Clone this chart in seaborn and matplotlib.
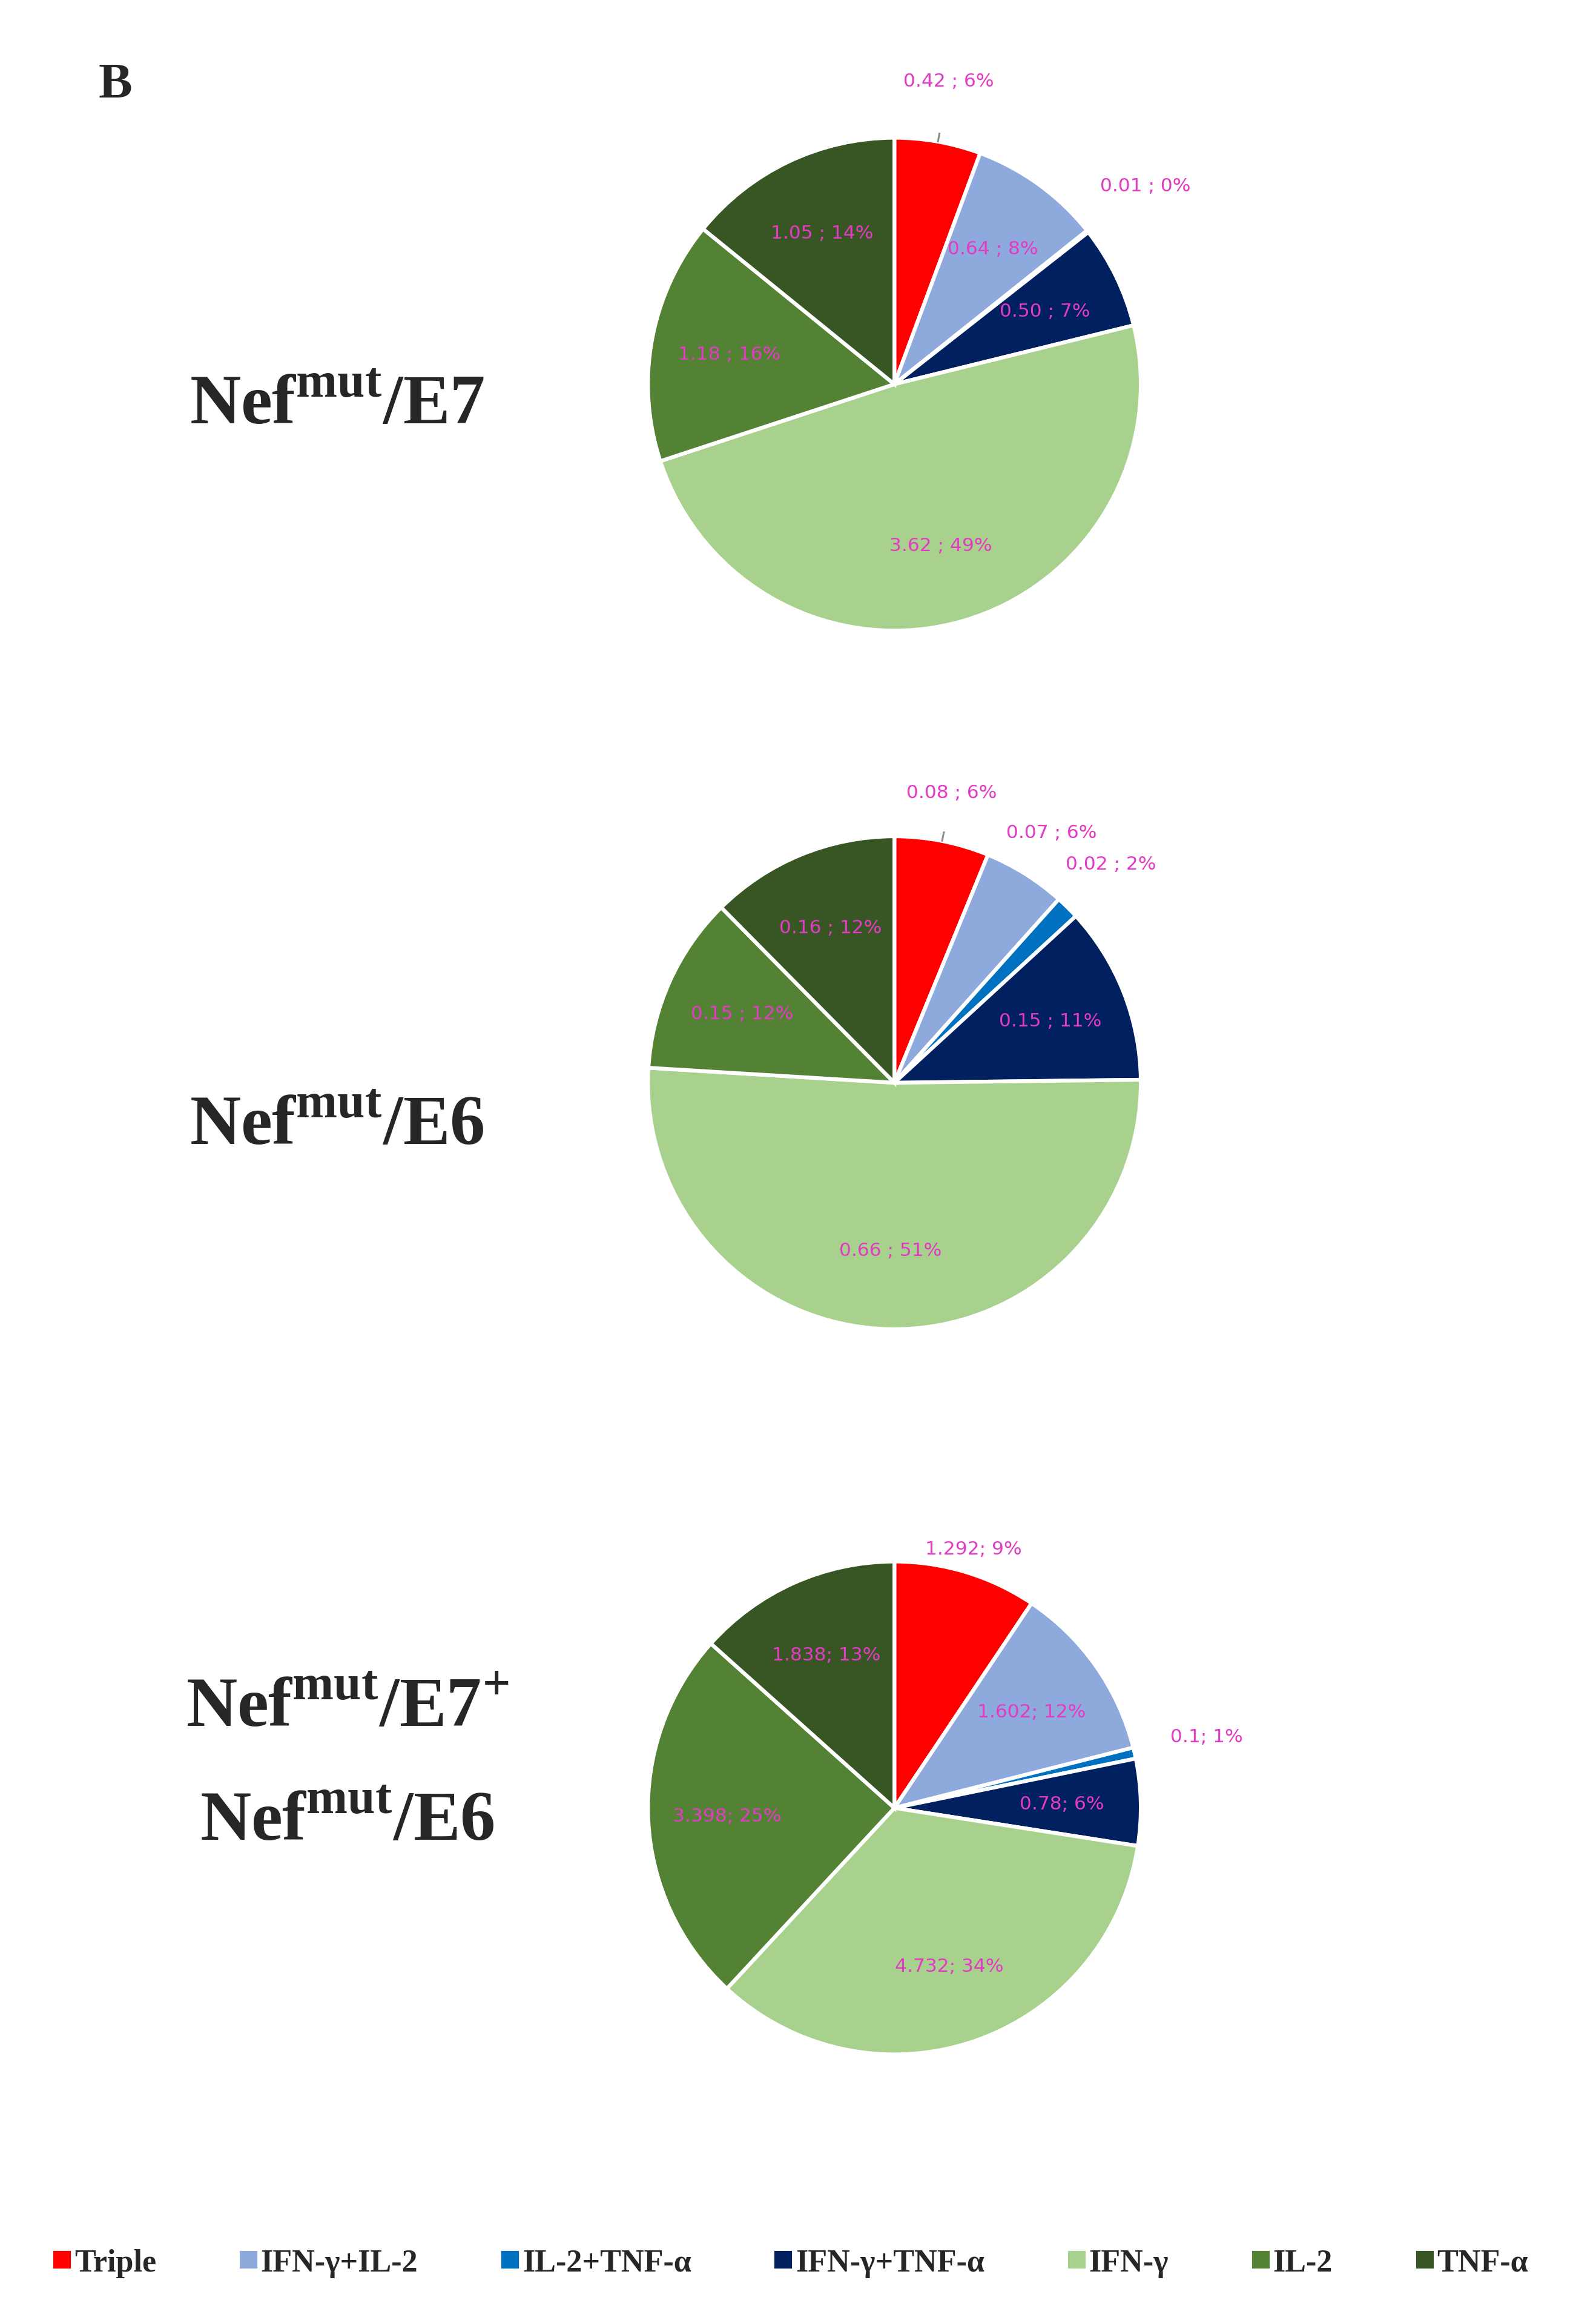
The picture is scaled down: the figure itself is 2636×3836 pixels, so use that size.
import numpy as np
import matplotlib
matplotlib.use("Agg")
import matplotlib.pyplot as plt
import seaborn as sns

# %%
# Cytokine categories and values for each vaccine group
categories = ["Triple", "IFN-γ+IL-2", "IL-2+TNF-α", "IFN-γ+TNF-α",
              "IFN-γ", "IL-2", "TNF-α"]
e7_values = [0.42, 0.64, 0.01, 0.50, 3.62, 1.18, 1.05]
e7_labels = ["0.42 ; 6%", "0.64 ; 8%", "0.01 ; 0%", "0.50 ; 7%",
             "3.62 ; 49%", "1.18 ; 16%", "1.05 ; 14%"]
e6_values = [0.08, 0.07, 0.02, 0.15, 0.66, 0.15, 0.16]
e6_labels = ["0.08 ; 6%", "0.07 ; 6%", "0.02 ; 2%", "0.15 ; 11%",
             "0.66 ; 51%", "0.15 ; 12%", "0.16 ; 12%"]
mix_values = [1.292, 1.602, 0.1, 0.78, 4.732, 3.398, 1.838]
mix_labels = ["1.292; 9%", "1.602; 12%", "0.1; 1%", "0.78; 6%",
              "4.732; 34%", "3.398; 25%", "1.838; 13%"]

sns.set_theme(style="white")
plt.rcParams['mathtext.fontset'] = 'custom'
plt.rcParams['mathtext.rm'] = 'Liberation Serif'
plt.rcParams['mathtext.bf'] = 'Liberation Serif:bold'
colors = sns.color_palette(["#FF0000", "#8EA9DB", "#0070C0", "#002060",
                            "#A9D18E", "#548235", "#375623"])
label_color = "#E33BC4"

fig = plt.figure(figsize=(2637 / 300, 3837 / 300), dpi=300)

W, H = 1080, 1570  # reference layout units


def draw_pie(cx, cy, r, values, labels, outside):
    ax = fig.add_axes([(cx - r) / W, 1 - (cy + r) / H, 2 * r / W, 2 * r / H])
    wedges, _ = ax.pie(values, colors=colors, startangle=90, counterclock=False,
                       wedgeprops=dict(edgecolor="white", linewidth=1.5))
    for w, lab in zip(wedges, labels):
        ang = np.deg2rad((w.theta1 + w.theta2) / 2)
        if lab in outside:
            rr, line = outside[lab]
            x, y = rr * np.cos(ang), rr * np.sin(ang)
            if line:
                ax.plot([np.cos(ang), 1.12 * np.cos(ang)],
                        [np.sin(ang), 1.12 * np.sin(ang)], color="#888888", lw=0.7)
            ax.text(x, y, lab, color=label_color, fontsize=7.5,
                    ha="center", va="center")
        else:
            x, y = 0.68 * np.cos(ang), 0.68 * np.sin(ang)
            ax.text(x, y, lab, color=label_color, fontsize=7.5,
                    ha="center", va="center")
    ax.set_xlim(-1.02, 1.02)
    ax.set_ylim(-1.02, 1.02)
    ax.set_aspect("equal")
    ax.axis("off")


draw_pie(605, 260, 170, e7_values, e7_labels,
         {"0.42 ; 6%": (1.25, True), "0.01 ; 0%": (1.3, False)})
draw_pie(605, 732, 170, e6_values, e6_labels,
         {"0.08 ; 6%": (1.2, True), "0.07 ; 6%": (1.2, False),
          "0.02 ; 2%": (1.25, False)})
draw_pie(605, 1222, 170, mix_values, mix_labels,
         {"1.292; 9%": (1.1, False), "0.1; 1%": (1.3, False)})

title_kw = dict(fontsize=28, fontweight="bold", family="Liberation Serif",
                ha="center", va="center")
fig.text(78 / W, 1 - 58 / H, "B", fontsize=20, fontweight="bold",
         family="Liberation Serif", ha="center", va="center")
fig.text(228 / W, 1 - 275 / H, r"Nef$^{\mathbf{mut}}$/E7", **title_kw)
fig.text(228 / W, 1 - 762 / H, r"Nef$^{\mathbf{mut}}$/E6", **title_kw)
fig.text(235 / W, 1 - 1155 / H, r"Nef$^{\mathbf{mut}}$/E7$^{\mathbf{+}}$", **title_kw)
fig.text(235 / W, 1 - 1232 / H, r"Nef$^{\mathbf{mut}}$/E6", **title_kw)

handles = [plt.Line2D([], [], marker="s", ls="", color=c, markersize=6)
           for c in colors]
leg = fig.legend(handles, categories, loc="center", ncol=7, mode="expand",
                 bbox_to_anchor=(0.015, 1 - 1545 / H, 0.96, 0.02),
                 frameon=False, handlelength=0.6, handletextpad=0.1,
                 columnspacing=0.3,
                 prop=dict(family="Liberation Serif", size=12.5, weight="bold"))

fig.savefig("out.png", dpi=300)
